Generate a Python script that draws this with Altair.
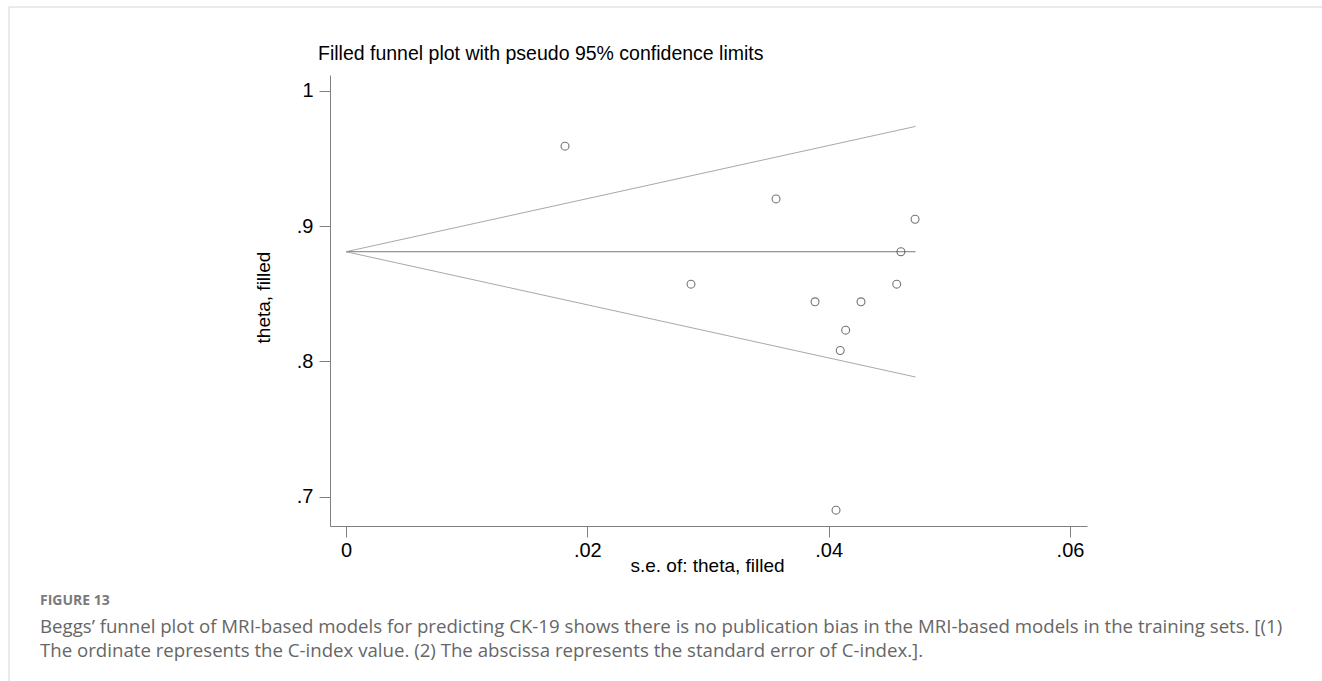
import altair as alt
import pandas as pd

# ---- data ----
se = [0.01815, 0.03564, 0.04716, 0.04599, 0.02859, 0.04564, 0.03887, 0.04268, 0.04141, 0.04096, 0.04061]
theta = [0.959, 0.920, 0.905, 0.881, 0.857, 0.857, 0.844, 0.844, 0.823, 0.808, 0.690]

funnel_se = [0.0, 0.0472]
funnel_center = [0.881, 0.881]
funnel_upper = [0.881, 0.9736]
funnel_lower = [0.881, 0.7884]

x_ticks = [0, 0.02, 0.04, 0.06]
y_ticks = [0.7, 0.8, 0.9, 1.0]

title_text = "Filled funnel plot with pseudo 95% confidence limits"
y_title = "theta, filled"
x_title = "s.e. of: theta, filled"
fig_label = "FIGURE 13"
caption_lines = [
    "Beggs\u2019 funnel plot of MRI-based models for predicting CK-19 shows there is no publication bias in the MRI-based models in the training sets. [(1)",
    "The ordinate represents the C-index value. (2) The abscissa represents the standard error of C-index.].",
]

points = pd.DataFrame({"se": se, "theta": theta})
lines = pd.DataFrame({
    "se": funnel_se * 3,
    "theta": funnel_upper + funnel_center + funnel_lower,
    "series": ["upper"] * 2 + ["center"] * 2 + ["lower"] * 2,
})

FONT = "Liberation Sans"
CAP_FONT = "Open Sans"

x_scale = alt.Scale(domain=[-0.001326, 0.06141], nice=False, zero=False)
y_scale = alt.Scale(domain=[0.6783, 1.0116], nice=False, zero=False)

x_axis = alt.Axis(
    values=x_ticks,
    labelExpr="datum.value == 0 ? '0' : replace(format(datum.value, '.2f'), '0.', '.')",
    title=x_title, titleX=377, titleY=39, titleBaseline="middle", titleAnchor="middle",
    titleAlign="center", labelPadding=3,
)
y_axis = alt.Axis(
    values=y_ticks,
    labelExpr="datum.value >= 0.999 ? '1' : replace(format(datum.value, '.1f'), '0.', '.')",
    title=y_title, titleX=-67, titleY=222, titleBaseline="middle", titleAngle=-90,
    titleAlign="center", labelPadding=6,
)

funnel = alt.Chart(lines).mark_line(strokeWidth=1).encode(
    x=alt.X("se:Q", scale=x_scale, axis=x_axis),
    y=alt.Y("theta:Q", scale=y_scale, axis=y_axis),
    detail="series:N",
    color=alt.Color("series:N", legend=None,
                    scale=alt.Scale(domain=["upper", "center", "lower"],
                                    range=["#a8a8a8", "#7a7a7a", "#a8a8a8"])),
)

dots = alt.Chart(points).mark_point(shape="circle", filled=False, size=62,
                                    strokeWidth=1.1, color="#3a3a3a").encode(
    x=alt.X("se:Q", scale=x_scale),
    y=alt.Y("theta:Q", scale=y_scale),
)

one = pd.DataFrame({"k": [0]})

title_layer = alt.Chart(one).mark_text(
    align="left", baseline="middle", font=FONT, fontSize=19.5, color="#000000",
).encode(x=alt.value(-12), y=alt.value(-21), text=alt.value(title_text))

label_layer = alt.Chart(one).mark_text(
    align="left", baseline="middle", font=CAP_FONT, fontSize=14, fontWeight="bold",
    color="#7a7a7a",
).encode(x=alt.value(-290), y=alt.value(526), text=alt.value(fig_label))

cap1 = alt.Chart(one).mark_text(
    align="left", baseline="middle", font=CAP_FONT, fontSize=18.65, color="#666666",
).encode(x=alt.value(-290), y=alt.value(552), text=alt.value(caption_lines[0]))
cap2 = alt.Chart(one).mark_text(
    align="left", baseline="middle", font=CAP_FONT, fontSize=18.65, color="#666666",
).encode(x=alt.value(-290), y=alt.value(576), text=alt.value(caption_lines[1]))

border_left = alt.Chart(one).mark_rule(color="#d6d6d6", strokeWidth=1).encode(
    x=alt.value(-321), y=alt.value(-68), y2=alt.value(606))
border_top = alt.Chart(one).mark_rule(color="#d6d6d6", strokeWidth=1).encode(
    x=alt.value(-321), x2=alt.value(992), y=alt.value(-68))

chart = alt.layer(funnel, dots, title_layer, label_layer, cap1, cap2,
                  border_left, border_top).properties(
    width=757,
    height=451,
    autosize=alt.AutoSizeParams(type="none"),
    padding={"left": 330, "top": 75, "right": 235, "bottom": 155},
).configure_view(stroke="transparent").configure_axis(
    grid=False,
    domainColor="#808080",
    tickColor="#808080",
    tickSize=11,
    labelFont=FONT,
    labelFontSize=20,
    labelColor="#000000",
    titleFont=FONT,
    titleFontSize=19,
    titleFontWeight="normal",
    titleColor="#000000",
)

chart.save("out.html", embed_options={"renderer": "svg", "actions": False})
